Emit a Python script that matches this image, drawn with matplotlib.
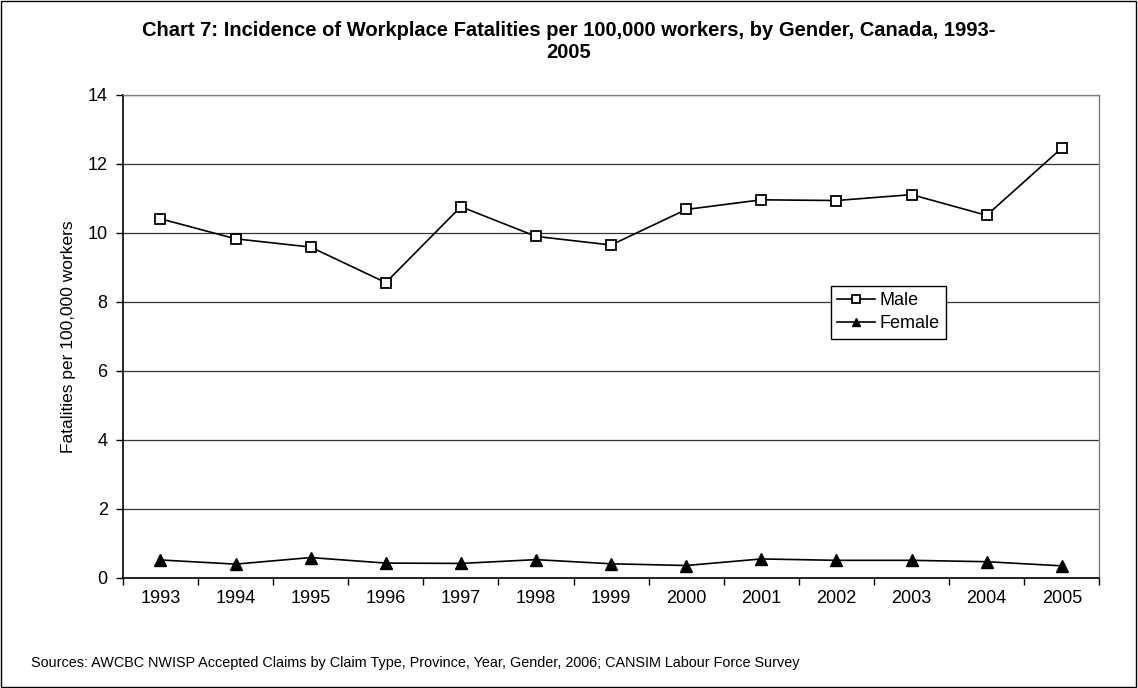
import matplotlib.pyplot as plt
import numpy as np

years = ["1993", "1994", "1995", "1996", "1997", "1998", "1999",
         "2000", "2001", "2002", "2003", "2004", "2005"]
male = [10.41, 9.83, 9.59, 8.56, 10.76, 9.90, 9.65, 10.68, 10.96, 10.94, 11.11, 10.51, 12.46]
female = [0.52, 0.40, 0.59, 0.43, 0.42, 0.53, 0.41, 0.36, 0.55, 0.51, 0.51, 0.47, 0.35]
yticks = [0, 2, 4, 6, 8, 10, 12, 14]

plt.rcParams["font.family"] = ["Liberation Sans", "DejaVu Sans"]

fig = plt.figure(figsize=(11.38, 6.88), dpi=100)
ax = fig.add_axes([0.108, 0.160, 0.858, 0.702])

x = np.arange(len(years))
ax.plot(x, male, color="black", lw=1.2, marker="s", ms=7.5, mfc="white", mec="black",
        mew=1.3, label="Male")
ax.plot(x, female, color="black", lw=1.2, marker="^", ms=8, mfc="black", mec="black",
        label="Female")

ax.set_xlim(-0.5, len(years) - 0.5)
ax.set_ylim(0, 14)
ax.set_yticks(yticks)
ax.set_yticklabels([str(v) for v in yticks], fontsize=13)
ax.set_xticks(x)
ax.set_xticklabels(years, fontsize=13)
ax.set_xticks(np.arange(-0.5, len(years)), minor=True)
ax.tick_params(axis="x", which="major", length=0, pad=9)
ax.tick_params(axis="x", which="minor", length=5, direction="out", width=1)
ax.tick_params(axis="y", length=5, direction="out", width=1, pad=6)
ax.yaxis.grid(True, color="#333333", lw=0.9)
ax.set_axisbelow(True)

for s in ["left", "bottom"]:
    ax.spines[s].set_color("black")
    ax.spines[s].set_linewidth(1.2)
for s in ["top", "right"]:
    ax.spines[s].set_color("#808080")
    ax.spines[s].set_linewidth(1.0)

ax.set_ylabel("Fatalities per 100,000 workers", fontsize=12.5, labelpad=8)

leg = ax.legend(loc="upper left", bbox_to_anchor=(0.725, 0.605), fontsize=13,
                frameon=True, fancybox=False, edgecolor="black", framealpha=1,
                handlelength=2.1, handletextpad=0.25, borderpad=0.35, labelspacing=0.35,
                markerscale=0.7, borderaxespad=0)
leg.get_frame().set_linewidth(1.0)

fig.text(0.5, 0.955, "Chart 7: Incidence of Workplace Fatalities per 100,000 workers, by Gender, Canada, 1993-",
         ha="center", va="center", fontsize=14.5, fontweight="bold")
fig.text(0.5, 0.924, "2005", ha="center", va="center", fontsize=14.5, fontweight="bold")
fig.text(0.027, 0.036, "Sources: AWCBC NWISP Accepted Claims by Claim Type, Province, Year, Gender, 2006; CANSIM Labour Force Survey",
         ha="left", va="center", fontsize=10.4)

fig.patches.append(plt.Rectangle((0.001, 0.001), 0.997, 0.997, transform=fig.transFigure,
                                 fill=False, edgecolor="black", lw=1))

fig.savefig("out.png", dpi=100)
